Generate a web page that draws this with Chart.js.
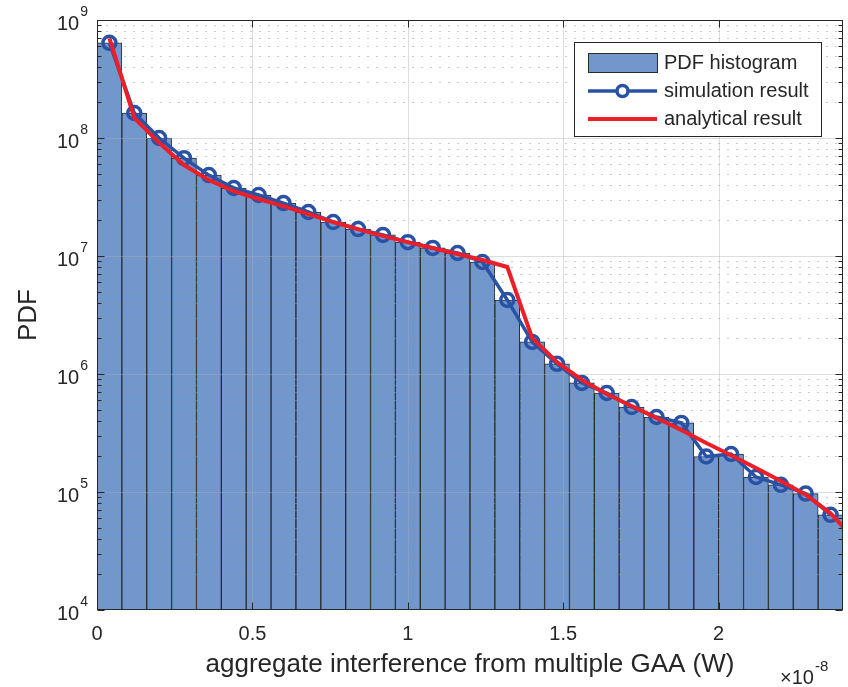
<!DOCTYPE html>
<html>
<head>
<meta charset="utf-8">
<script src="https://cdn.jsdelivr.net/npm/chart.js@4.4.1/dist/chart.umd.min.js"></script>
<style>
  html, body { margin: 0; padding: 0; background: #fff; }
</style>
</head>
<body>
<canvas id="pdfChart" width="848" height="687"></canvas>
<script>
// bin centres, in units of 1e-8 W
const binCenters = [0.04, 0.12, 0.20, 0.28, 0.36, 0.44, 0.52, 0.60, 0.68, 0.76,
                    0.84, 0.92, 1.00, 1.08, 1.16, 1.24, 1.32, 1.40, 1.48, 1.56,
                    1.64, 1.72, 1.80, 1.88, 1.96, 2.04, 2.12, 2.20, 2.28, 2.36];
const histValues = [6.4e8, 1.63e8, 1.0e8, 6.75e7, 4.85e7, 3.77e7, 3.29e7, 2.81e7, 2.36e7, 1.94e7,
                    1.69e7, 1.51e7, 1.31e7, 1.17e7, 1.06e7, 8.9e6, 4.24e6, 1.87e6, 1.22e6, 8.4e5,
                    6.9e5, 5.25e5, 4.32e5, 3.85e5, 2.0e5, 2.1e5, 1.34e5, 1.15e5, 9.7e4, 6.4e4];
const analyticX = [0.04, 0.12, 0.20, 0.28, 0.36, 0.44, 0.52, 0.60, 0.68, 0.76,
                   0.84, 0.92, 1.00, 1.08, 1.16, 1.24, 1.32, 1.40, 1.48, 1.56,
                   1.64, 1.72, 1.80, 1.88, 1.96, 2.04, 2.12, 2.20, 2.28, 2.36, 2.44];
const analyticValues = [7.0e8, 1.48e8, 9.1e7, 5.9e7, 4.4e7, 3.55e7, 3.04e7, 2.65e7, 2.27e7, 1.94e7,
                        1.69e7, 1.48e7, 1.31e7, 1.17e7, 1.04e7, 9.25e6, 8.07e6, 2.02e6, 1.26e6, 8.9e5,
                        6.76e5, 5.36e5, 4.24e5, 3.35e5, 2.6e5, 2.05e5, 1.6e5, 1.24e5, 9.5e4, 6.6e4, 3.9e4];
const xTicks = [0, 0.5, 1, 1.5, 2];
const xTickLabels = ['0', '0.5', '1', '1.5', '2'];
const yDecades = [4, 5, 6, 7, 8, 9];

const FONT = "'Liberation Sans', Arial, Helvetica, sans-serif";
const TXT = '#262626';
const BAR = 'rgb(114,151,205)';
const BLUE = 'rgb(42,82,164)';
const RED = 'rgb(236,30,40)';

function drawGrid(chart) {
  const { ctx, chartArea: a, scales: { x, y } } = chart;
  ctx.save();
  ctx.beginPath();
  ctx.rect(a.left, a.top, a.right - a.left, a.bottom - a.top);
  ctx.clip();
  ctx.lineWidth = 1;
  // minor (dotted) log grid
  ctx.strokeStyle = 'rgba(150,150,150,0.5)';
  ctx.setLineDash([2, 7]);
  for (let d = yDecades[0]; d < yDecades[yDecades.length - 1]; d++) {
    for (let k = 2; k <= 9; k++) {
      const py = Math.round(y.getPixelForValue(k * Math.pow(10, d))) + 0.5;
      ctx.beginPath(); ctx.moveTo(a.left, py); ctx.lineTo(a.right, py); ctx.stroke();
    }
  }
  // major grid
  ctx.setLineDash([]);
  ctx.strokeStyle = 'rgba(175,175,175,0.42)';
  yDecades.forEach(d => {
    const py = Math.round(y.getPixelForValue(Math.pow(10, d))) + 0.5;
    ctx.beginPath(); ctx.moveTo(a.left, py); ctx.lineTo(a.right, py); ctx.stroke();
  });
  xTicks.forEach(v => {
    const px = Math.round(x.getPixelForValue(v)) + 0.5;
    ctx.beginPath(); ctx.moveTo(px, a.top); ctx.lineTo(px, a.bottom); ctx.stroke();
  });
  ctx.restore();
}

function drawAxes(chart) {
  const { ctx, chartArea: a, scales: { x, y } } = chart;
  const L = Math.round(a.left) + 0.5, R = Math.round(a.right) - 0.5;
  const T = Math.round(a.top) + 0.5, B = Math.round(a.bottom) - 0.5;
  ctx.save();
  ctx.strokeStyle = TXT;
  ctx.lineWidth = 1;
  ctx.strokeRect(L, T, R - L, B - T);

  // ticks
  const tl = 7, tm = 4;
  ctx.beginPath();
  xTicks.forEach(v => {
    const px = Math.round(x.getPixelForValue(v)) + 0.5;
    ctx.moveTo(px, B); ctx.lineTo(px, B - tl);
    ctx.moveTo(px, T); ctx.lineTo(px, T + tl);
  });
  yDecades.forEach((d, i) => {
    const py = Math.round(y.getPixelForValue(Math.pow(10, d))) + 0.5;
    ctx.moveTo(L, py); ctx.lineTo(L + tl, py);
    ctx.moveTo(R, py); ctx.lineTo(R - tl, py);
    if (i < yDecades.length - 1) {
      for (let k = 2; k <= 9; k++) {
        const pm = Math.round(y.getPixelForValue(k * Math.pow(10, d))) + 0.5;
        ctx.moveTo(L, pm); ctx.lineTo(L + tm, pm);
        ctx.moveTo(R, pm); ctx.lineTo(R - tm, pm);
      }
    }
  });
  ctx.stroke();

  // x tick labels
  ctx.fillStyle = TXT;
  ctx.font = '20px ' + FONT;
  ctx.textAlign = 'center';
  ctx.textBaseline = 'middle';
  xTicks.forEach((v, i) => {
    ctx.fillText(xTickLabels[i], x.getPixelForValue(v), a.bottom + 24);
  });

  // y tick labels 10^n
  yDecades.forEach(d => {
    const py = y.getPixelForValue(Math.pow(10, d));
    ctx.font = '14px ' + FONT;
    ctx.textAlign = 'right';
    const sup = String(d);
    const supW = ctx.measureText(sup).width;
    const right = a.left - 9;
    ctx.fillText(sup, right, py - 8);
    ctx.font = '20px ' + FONT;
    ctx.fillText('10', right - supW - 1, py + 4);
  });

  // axis titles
  ctx.font = '26px ' + FONT;
  ctx.textAlign = 'center';
  ctx.fillText('aggregate interference from multiple GAA (W)', (a.left + a.right) / 2, 665);
  ctx.save();
  ctx.translate(29, (a.top + a.bottom) / 2);
  ctx.rotate(-Math.PI / 2);
  ctx.fillText('PDF', 0, 0);
  ctx.restore();

  // exponent multiplier
  ctx.textAlign = 'left';
  ctx.font = '20px ' + FONT;
  const base = '\u00d710';
  const bx = 780;
  ctx.fillText(base, bx, 678);
  const bw = ctx.measureText(base).width;
  ctx.font = '15px ' + FONT;
  ctx.fillText('-8', bx + bw + 1, 667);
  ctx.restore();
}

function drawLegend(chart) {
  const { ctx } = chart;
  ctx.save();
  ctx.fillStyle = '#fff';
  ctx.fillRect(574.5, 42.5, 247, 94);
  ctx.strokeStyle = TXT;
  ctx.lineWidth = 1;
  ctx.strokeRect(574.5, 42.5, 247, 94);

  // histogram patch
  ctx.fillStyle = BAR;
  ctx.fillRect(588.5, 53.5, 69, 19);
  ctx.strokeStyle = '#2b2b2b';
  ctx.strokeRect(588.5, 53.5, 69, 19);

  // simulation line with marker
  ctx.strokeStyle = BLUE;
  ctx.lineWidth = 3.5;
  ctx.beginPath(); ctx.moveTo(588, 91); ctx.lineTo(657, 91); ctx.stroke();
  ctx.fillStyle = '#fff';
  ctx.beginPath(); ctx.arc(622.5, 91, 5.5, 0, Math.PI * 2); ctx.fill(); ctx.stroke();

  // analytical line
  ctx.strokeStyle = RED;
  ctx.lineWidth = 4;
  ctx.beginPath(); ctx.moveTo(588, 119); ctx.lineTo(657, 119); ctx.stroke();

  ctx.fillStyle = TXT;
  ctx.font = '20px ' + FONT;
  ctx.textAlign = 'left';
  ctx.textBaseline = 'middle';
  ctx.fillText('PDF histogram', 664, 63);
  ctx.fillText('simulation result', 664, 91);
  ctx.fillText('analytical result', 664, 119);
  ctx.restore();
}

const decorPlugin = {
  id: 'decor',
  afterDatasetDraw(chart, args) {
    if (args.index === 0) drawGrid(chart);
  },
  afterDraw(chart) {
    drawAxes(chart);
    drawLegend(chart);
  }
};

new Chart(document.getElementById('pdfChart'), {
  type: 'bar',
  data: {
    datasets: [
      {
        type: 'bar',
        label: 'PDF histogram',
        data: binCenters.map((c, i) => ({ x: c, y: histValues[i] })),
        backgroundColor: BAR,
        borderColor: '#2b2b2b',
        borderWidth: 1,
        barPercentage: 1,
        categoryPercentage: 1,
        order: 2
      },
      {
        type: 'line',
        label: 'simulation result',
        data: binCenters.map((c, i) => ({ x: c, y: histValues[i] })),
        borderColor: BLUE,
        borderWidth: 3.5,
        pointRadius: 6.5,
        pointBorderWidth: 3.5,
        pointBorderColor: BLUE,
        pointBackgroundColor: 'rgba(0,0,0,0)',
        tension: 0,
        order: 1
      },
      {
        type: 'line',
        label: 'analytical result',
        data: analyticX.map((c, i) => ({ x: c, y: analyticValues[i] })),
        borderColor: RED,
        borderWidth: 4,
        pointRadius: 0,
        tension: 0,
        order: 0
      }
    ]
  },
  options: {
    responsive: false,
    animation: false,
    layout: { autoPadding: false, padding: { left: 97, right: 5, top: 20, bottom: 77 } },
    plugins: {
      legend: { display: false },
      tooltip: { enabled: false }
    },
    scales: {
      x: { type: 'linear', display: false, min: 0, max: 2.4, offset: false },
      y: { type: 'logarithmic', display: false, min: 1e4, max: 1e9 }
    }
  },
  plugins: [decorPlugin]
});
</script>
</body>
</html>
